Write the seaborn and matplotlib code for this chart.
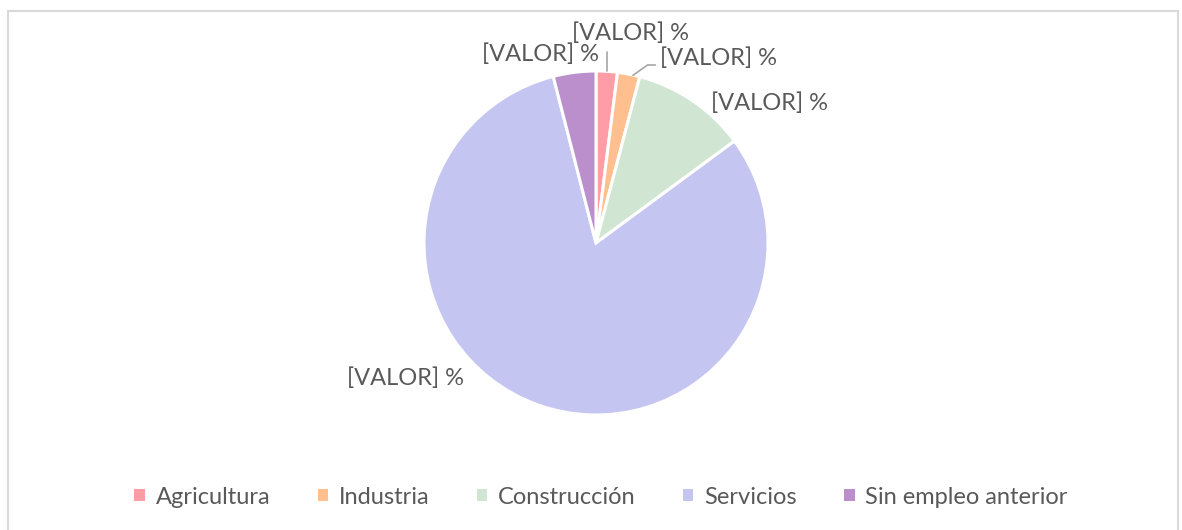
import matplotlib.pyplot as plt
import matplotlib.patches as mpatches
import seaborn as sns
import numpy as np

# data
categories = ['Agricultura', 'Industria', 'Construcción', 'Servicios', 'Sin empleo anterior']
shares = [2.0, 2.1, 10.8, 81.1, 4.0]
labels = ['[VALOR] %'] * 5
colors = ['#FF9DA7', '#FFBF8F', '#D0E6D3', '#C5C5F2', '#BA8FCC']

sns.set_style("white")
plt.rcParams['font.family'] = ['Lato', 'DejaVu Sans']
text_color = '#595959'

fig = plt.figure(figsize=(11.82, 5.30), dpi=100)
ax = fig.add_axes([424 / 1182, 1 - 415 / 530, 344 / 1182, 344 / 530])

wedges, _ = ax.pie(shares, colors=colors, startangle=90, counterclock=False,
                   radius=1.0, wedgeprops=dict(edgecolor='white', linewidth=2.2))
ax.set_xlim(-1, 1)
ax.set_ylim(-1, 1)
ax.set_aspect('equal')
ax.axis('off')

# data label positions (in pie radius units)
label_pos = [(0.20, 1.22), (0.71, 1.075), (1.01, 0.81), (-1.11, -0.785), (-0.32, 1.10)]
for lab, (x, y) in zip(labels, label_pos):
    ax.text(x, y, lab, ha='center', va='center', fontsize=17, color=text_color, clip_on=False)

# leader lines
ax.plot([0.064, 0.064], [1.11, 1.0], color='#A6A6A6', lw=1.2, clip_on=False)
ax.plot([0.345, 0.30, 0.215], [1.035, 1.035, 0.975], color='#A6A6A6', lw=1.2, clip_on=False)

handles = [mpatches.Patch(facecolor=c, edgecolor='none') for c in colors]
fig.legend(handles, categories, loc='center', bbox_to_anchor=(0.5 + 10 / 1182, 1 - 497 / 530), ncol=5,
           frameon=False, fontsize=17, handlelength=0.45, handleheight=0.45,
           handletextpad=0.45, columnspacing=2.0, labelcolor=text_color)

border = mpatches.Rectangle((8 / 1182, -0.01), 1170 / 1182, 1 - 11 / 530 + 0.01,
                            transform=fig.transFigure, fill=False, edgecolor='#D9D9D9', lw=1.5)
fig.patches.append(border)

fig.savefig('out.png', dpi=100)
